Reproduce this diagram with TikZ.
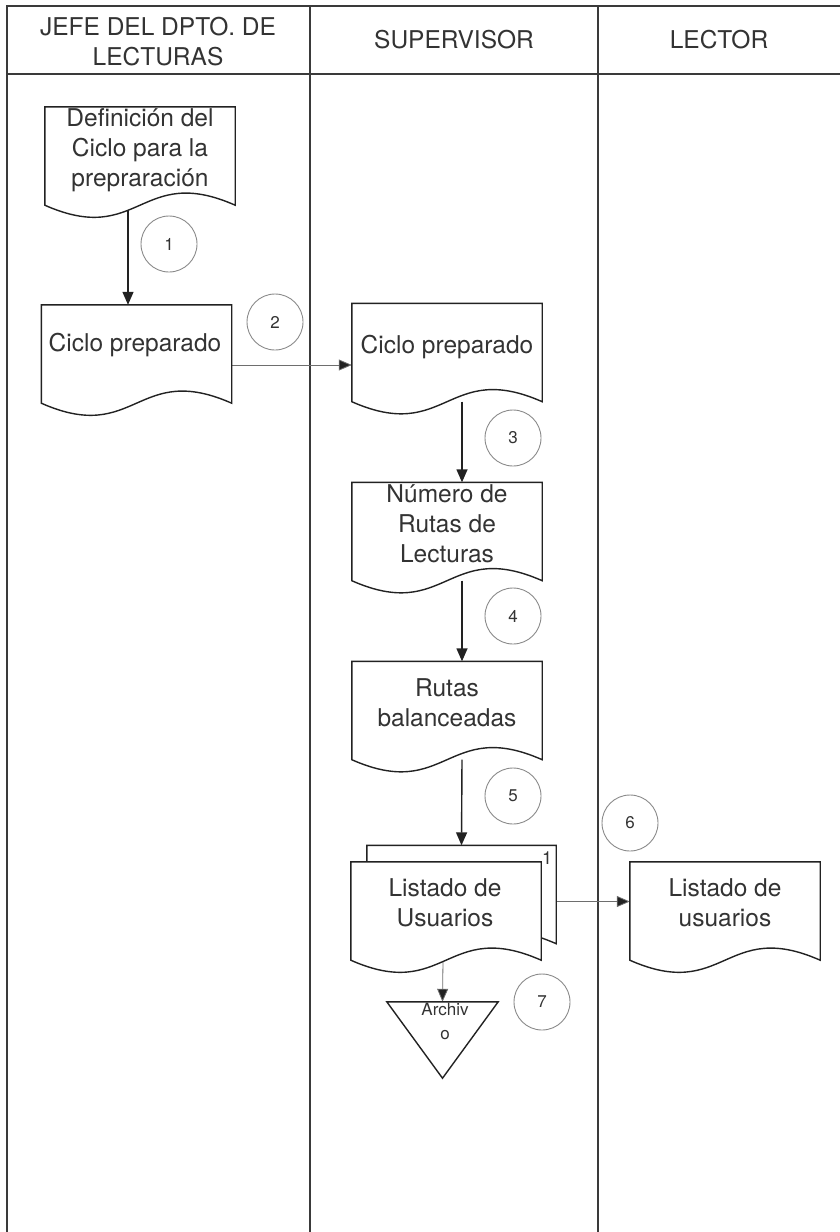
\documentclass[tikz,border=0pt]{standalone}
\usepackage{fontspec}
\setmainfont{TeX Gyre Heros}
\usetikzlibrary{arrows.meta}
\definecolor{ink}{HTML}{222222}
\definecolor{txt}{HTML}{333333}
\definecolor{lane}{HTML}{3A3A3A}
\definecolor{circ}{HTML}{8A8A8A}
\tikzset{
  lanel/.style={draw=lane, line width=1.6pt},
  docbox/.style={draw=none, inner sep=0pt, minimum width=190pt, minimum height=98pt},
  docline/.style={draw=ink, line width=1.4pt, fill=white, line join=miter},
  doctext/.style={text=txt, align=center, inner sep=0pt, font=\fontsize{24.5}{30}\selectfont},
  headtext/.style={text=txt, align=center, inner sep=0pt, font=\fontsize{24.5}{30}\selectfont},
  numcirc/.style={circle, draw=circ, line width=0.9pt, minimum size=56pt, inner sep=0pt, text=txt, font=\fontsize{17}{20}\selectfont},
  arr/.style={draw=ink, line width=1.4pt, -{Triangle[length=13pt,width=11pt]}},
  thinarr/.style={draw=circ!80!black, line width=0.8pt, -{Triangle[length=13pt,width=11pt,fill=ink]}},
}
\newcommand{\docoutline}[1]{%
  \path[docline] (#1.north west) -- (#1.north east) -- (#1.south east)
    .. controls +(-95,-42) and +(95,42) .. (#1.south west) -- cycle;}
\begin{document}
\begin{tikzpicture}[x=1pt,y=-1pt]
\useasboundingbox (0,0) rectangle (840,1232);
% lanes
\draw[lanel] (7,1232) -- (7,6) -- (840,6);
\draw[lanel] (7,74) -- (840,74);
\draw[lanel] (310,6) -- (310,1232);
\draw[lanel] (598,6) -- (598,1232);
\node[headtext] (h1) at (158,42) {JEFE DEL DPTO. DE\\LECTURAS};
\node[headtext] (h2) at (454,40) {SUPERVISOR};
\node[headtext] (h3) at (719,40) {LECTOR};

% document anchor boxes
\node[docbox] (d1) at (140,156) {};
\node[docbox] (d2) at (136.5,354) {};
\node[docbox] (d3) at (447,352.5) {};
\node[docbox] (d4) at (447,531.5) {};
\node[docbox] (d5) at (447,710.5) {};
\node[docbox, minimum width=189pt] (mb) at (461.5,894.5) {};
\node[docbox] (mf) at (446,911) {};
\node[docbox] (d6) at (725,911) {};
\node[inner sep=0pt, minimum width=111pt, minimum height=76pt] (arch) at (442.5,1040) {};

% connectors
\draw[arr] ([xshift=-12pt]d1.south) -- ([xshift=-12pt]d1.south |- d2.north);
\draw[thinarr] ([yshift=-11pt]d2.east) -- ([yshift=-11pt]d2.east -| d3.west);
\draw[arr] ([xshift=15pt]d3.south) -- ([xshift=15pt]d3.south |- d4.north);
\draw[arr] ([xshift=15pt]d4.south) -- ([xshift=15pt]d4.south |- d5.north);
\draw[arr] ([xshift=15pt]d5.south) -- (mb.north);
\draw[thinarr] ([yshift=-7pt]mb.east) -- ([yshift=-7pt]mb.east -| d6.west);
\draw[thinarr] ([xshift=-3pt]mf.south) -- (arch.north);

% documents
\docoutline{d1}
\docoutline{d2}
\docoutline{d3}
\docoutline{d4}
\docoutline{d5}
\docoutline{mb}
\node[text=txt, inner sep=0pt, font=\fontsize{18}{20}\selectfont] (one) at (547,858) {1};
\docoutline{mf}
\docoutline{d6}
\path[docline] (arch.north west) -- (arch.north east) -- (arch.south) -- cycle;

% texts
\node[doctext] (t1) at (140,150) {Definición del\\Ciclo para la\\prepraración};
\node[doctext] (t2) at (135,345) {Ciclo preparado};
\node[doctext] (t3) at (447,347) {Ciclo preparado};
\node[doctext] (t4) at (447,524) {Número de\\Rutas de\\Lecturas};
\node[doctext] (t5) at (447,703) {Rutas\\balanceadas};
\node[doctext] (tm) at (445,903) {Listado de\\Usuarios};
\node[doctext] (t6) at (725,903) {Listado de\\usuarios};
\node[text=txt, align=center, inner sep=0pt, font=\fontsize{17}{24}\selectfont] (ta) at (445,1021) {Archiv\\o};

% step numbers
\node[numcirc] (c1) at (169,244) {1};
\node[numcirc] (c2) at (275,322) {2};
\node[numcirc] (c3) at (513,438) {3};
\node[numcirc] (c4) at (513,616) {4};
\node[numcirc] (c5) at (513,796) {5};
\node[numcirc] (c6) at (630,823) {6};
\node[numcirc] (c7) at (542,1002) {7};
\end{tikzpicture}
\end{document}
